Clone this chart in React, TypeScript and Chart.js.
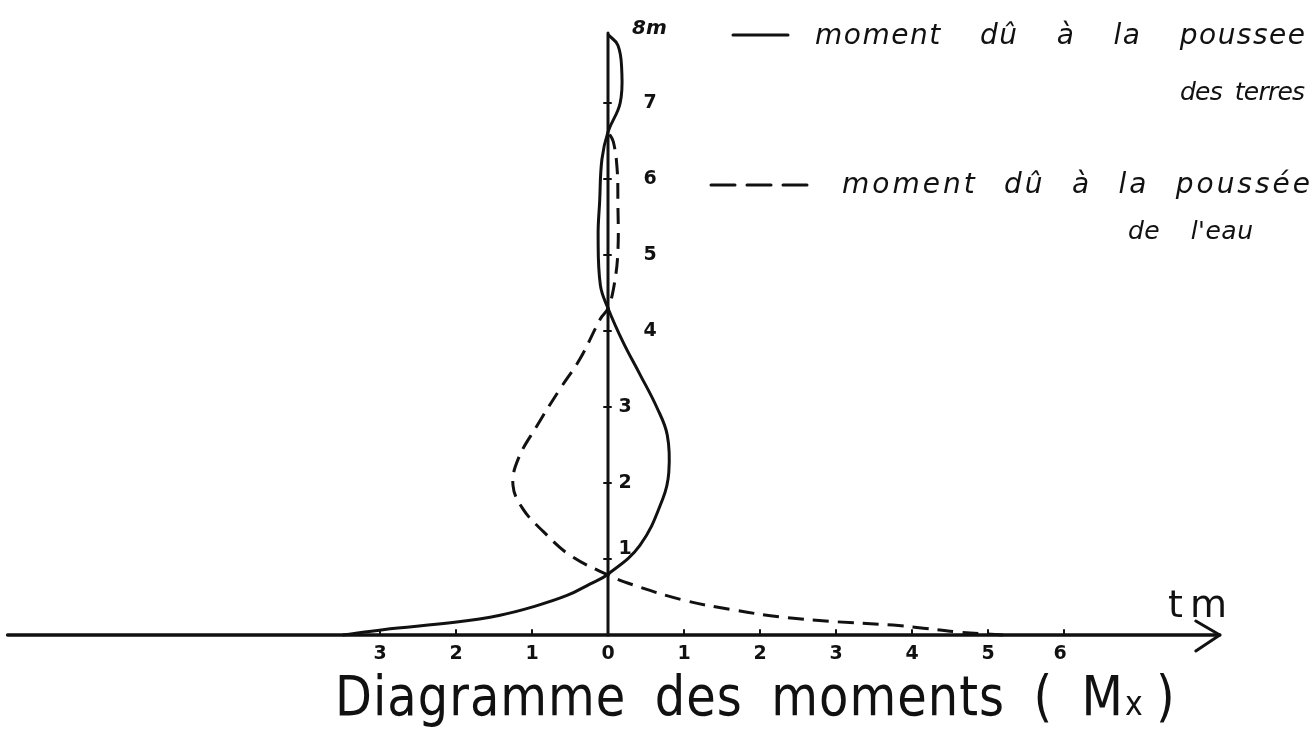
import { useEffect, useRef } from "react";
import { Chart, registerables } from "chart.js";

Chart.register(...registerables);

// Moment due to earth pressure (tm) against height along the wall (m)
const earthMoment = [-3.49, -2.96, -1.99, -1.42, -0.99, -0.54, -0.24, 0, 0.42, 0.72, 0.8, 0.78, 0.64, 0.42, 0.2, 0, -0.1, -0.13, -0.11, -0.08, 0, 0.16, 0.18, 0.13, 0];
const earthHeight = [0, 0.07, 0.17, 0.26, 0.37, 0.52, 0.67, 0.8, 1.18, 1.79, 2.14, 2.63, 3.0, 3.43, 3.85, 4.3, 4.6, 5.26, 5.7, 6.26, 6.62, 7.0, 7.45, 7.76, 7.9];

// Moment due to water pressure (tm) against height (m)
const waterMoment = [5.2, 4.6, 4.15, 3.75, 2.92, 2.26, 1.65, 0.99, 0.33, 0, -0.5, -0.85, -1.12, -1.25, -1.18, -0.93, -0.63, -0.37, -0.1, 0, 0.08, 0.13, 0.13, 0.12, 0.07, 0];
const waterHeight = [0, 0.04, 0.09, 0.13, 0.18, 0.24, 0.33, 0.46, 0.66, 0.79, 1.05, 1.36, 1.66, 1.97, 2.32, 2.76, 3.24, 3.63, 4.16, 4.3, 4.6, 5.04, 5.7, 6.13, 6.49, 6.62];

const momentTicks = [-3, -2, -1, 0, 1, 2, 3, 4, 5, 6];
const momentTickLabels = ["3", "2", "1", "0", "1", "2", "3", "4", "5", "6"];
const heightTicks = [1, 2, 3, 4, 5, 6, 7, 8];
const heightTickLabels = ["1", "2", "3", "4", "5", "6", "7", "8m"];

const earthLegend = ["moment dû à la poussee", "des terres"];
const waterLegend = ["moment dû à la poussée", "de l'eau"];
const titleMain = "Diagramme des moments ( M";
const titleSub = "x";
const titleClose = ")";
const unitLabel = "tm";

const W = 1313;
const H = 737;
const UNIT = 76; // pixels per tm and per metre
const ORIGIN_X = 608;
const ORIGIN_Y = 635;
const INK = "#111111";

// Draw a string between x0 and x1: letters get a fixed extra gap,
// word spaces absorb whatever width is left over
function spreadText(
  ctx: CanvasRenderingContext2D,
  text: string,
  x0: number,
  x1: number,
  baseline: number,
  letterGap: number
) {
  const chars = Array.from(text);
  const widths = chars.map((c) => ctx.measureText(c).width);
  const total = widths.reduce((a, b) => a + b, 0);
  const spaces = chars.filter((c) => c === " ").length;
  let letterPairs = 0;
  for (let i = 0; i < chars.length - 1; i++) {
    if (chars[i] !== " " && chars[i + 1] !== " ") letterPairs++;
  }
  let lg = letterGap;
  let spaceExtra = 0;
  if (spaces > 0) {
    spaceExtra = (x1 - x0 - total - lg * letterPairs) / spaces;
  } else {
    lg = chars.length > 1 ? (x1 - x0 - total) / (chars.length - 1) : 0;
  }
  let x = x0;
  ctx.textAlign = "left";
  ctx.textBaseline = "alphabetic";
  chars.forEach((c, i) => {
    if (c === " ") {
      x += widths[i] + spaceExtra;
      return;
    }
    ctx.fillText(c, x, baseline);
    x += widths[i];
    if (i < chars.length - 1 && chars[i + 1] !== " ") x += lg;
  });
}

const decorations = {
  id: "momentDecorations",
  beforeDatasetsDraw(chart: any) {
    const { ctx, scales } = chart;
    const xs = scales.x;
    const ys = scales.y;
    const px = (v: number) => xs.getPixelForValue(v);
    const py = (v: number) => ys.getPixelForValue(v);
    ctx.save();
    ctx.strokeStyle = INK;
    ctx.fillStyle = INK;
    ctx.lineCap = "round";
    ctx.lineJoin = "round";

    // horizontal axis with arrow
    const tip = px(8.05);
    ctx.lineWidth = 3.5;
    ctx.beginPath();
    ctx.moveTo(px(-7.9), py(0));
    ctx.lineTo(tip, py(0));
    ctx.stroke();
    ctx.lineWidth = 3;
    ctx.beginPath();
    ctx.moveTo(tip - 24, py(0) - 14);
    ctx.lineTo(tip, py(0));
    ctx.lineTo(tip - 24, py(0) + 16);
    ctx.stroke();

    // vertical axis
    ctx.lineWidth = 3;
    ctx.beginPath();
    ctx.moveTo(px(0), py(0));
    ctx.lineTo(px(0), py(7.92));
    ctx.stroke();

    // tick marks
    ctx.lineWidth = 2;
    momentTicks.forEach((t) => {
      if (t === 0) return;
      ctx.beginPath();
      ctx.moveTo(px(t), py(0));
      ctx.lineTo(px(t), py(0) - 5);
      ctx.stroke();
    });
    heightTicks.slice(0, 7).forEach((t) => {
      ctx.beginPath();
      ctx.moveTo(px(0) - 4, py(t));
      ctx.lineTo(px(0) + 3, py(t));
      ctx.stroke();
    });

    // tick labels
    ctx.font = "bold 19px 'DejaVu Sans'";
    ctx.textAlign = "center";
    ctx.textBaseline = "middle";
    momentTicks.forEach((t, i) => {
      ctx.fillText(momentTickLabels[i], px(t) - (t === 6 ? 4 : 0), py(0) + 19);
    });
    heightTicks.forEach((t, i) => {
      const label = heightTickLabels[i];
      if (t === 8) {
        ctx.textAlign = "left";
        ctx.font = "bold italic 20px 'DejaVu Sans'";
        ctx.fillText(label, px(0) + 24, py(t) + 2);
        ctx.font = "bold 19px 'DejaVu Sans'";
        ctx.textAlign = "center";
        return;
      }
      const dx = t <= 3 ? 17 : 42;
      const dy = t === 1 ? -10 : 0;
      ctx.fillText(label, px(0) + dx, py(t) + dy);
    });

    // unit label
    ctx.font = "38px 'DejaVu Sans'";
    spreadText(ctx, unitLabel, 1168, 1227, 617, 0);

    // title, hand lettering is a little taller than the font
    ctx.save();
    ctx.translate(0, 715);
    ctx.scale(1, 1.15);
    ctx.font = "48px 'DejaVu Sans'";
    spreadText(ctx, titleMain, 335, 1123, 0, 1);
    ctx.font = "30px 'DejaVu Sans'";
    ctx.textAlign = "left";
    ctx.fillText(titleSub, 1125, 0);
    ctx.font = "48px 'DejaVu Sans'";
    ctx.fillText(titleClose, 1156, 0);
    ctx.restore();

    // legend
    ctx.lineWidth = 3;
    ctx.setLineDash([]);
    ctx.beginPath();
    ctx.moveTo(733, 35);
    ctx.lineTo(788, 35);
    ctx.stroke();
    ctx.setLineDash([24, 12]);
    ctx.beginPath();
    ctx.moveTo(711, 185);
    ctx.lineTo(807, 185);
    ctx.stroke();
    ctx.setLineDash([]);

    ctx.font = "italic 28px 'DejaVu Sans'";
    spreadText(ctx, earthLegend[0], 815, 1305, 44, 1.5);
    spreadText(ctx, waterLegend[0], 842, 1310, 193, 3);
    ctx.font = "italic 25px 'DejaVu Sans'";
    spreadText(ctx, earthLegend[1], 1180, 1305, 100, -0.8);
    spreadText(ctx, waterLegend[1], 1128, 1253, 239, 0.5);
    ctx.restore();
  },
};

export default function App() {
  const canvasRef = useRef<HTMLCanvasElement | null>(null);

  useEffect(() => {
    const canvas = canvasRef.current;
    if (!canvas) return;
    const toPoints = (xs: number[], ys: number[]) => xs.map((x, i) => ({ x, y: ys[i] }));
    const chart = new Chart(canvas, {
      type: "scatter",
      data: {
        datasets: [
          {
            label: earthLegend.join(" "),
            data: toPoints(earthMoment, earthHeight),
            showLine: true,
            borderColor: INK,
            borderWidth: 3,
            pointRadius: 0,
            tension: 0.4,
            fill: false,
          },
          {
            label: waterLegend.join(" "),
            data: toPoints(waterMoment, waterHeight),
            showLine: true,
            borderColor: INK,
            borderWidth: 3,
            borderDash: [16, 9],
            pointRadius: 0,
            tension: 0.4,
            fill: false,
          },
        ],
      },
      options: {
        responsive: false,
        animation: false,
        devicePixelRatio: 1,
        layout: { padding: 0 },
        plugins: { legend: { display: false }, tooltip: { enabled: false } },
        scales: {
          x: { type: "linear", display: false, min: -ORIGIN_X / UNIT, max: (W - ORIGIN_X) / UNIT },
          y: { type: "linear", display: false, min: -(H - ORIGIN_Y) / UNIT, max: ORIGIN_Y / UNIT },
        },
      },
      plugins: [decorations],
    });
    return () => chart.destroy();
  }, []);

  return (
    <div style={{ position: "fixed", left: 0, top: 0, width: W, height: H, background: "#fff" }}>
      <canvas ref={canvasRef} width={W} height={H} style={{ display: "block" }} />
    </div>
  );
}
